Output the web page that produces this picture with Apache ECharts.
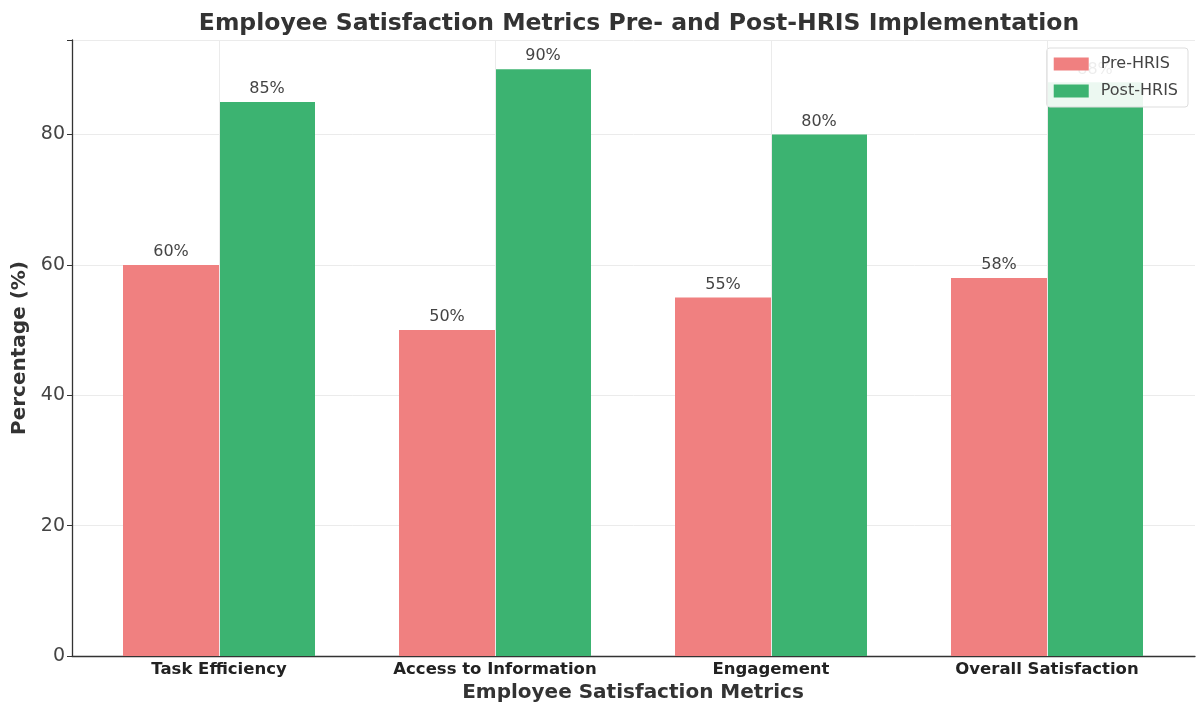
<!DOCTYPE html>
<html>
<head>
<meta charset="utf-8">
<script src="https://cdn.jsdelivr.net/npm/echarts@6/dist/echarts.min.js"></script>
<style>html,body{margin:0;padding:0;background:#fff}#c{width:1198px;height:707px}</style>
</head>
<body>
<div id="c"></div>
<script>
const categories = ['Task Efficiency', 'Access to Information', 'Engagement', 'Overall Satisfaction'];
const preHRIS = [60, 50, 55, 58];
const postHRIS = [85, 90, 80, 88];
const yTicks = [0, 20, 40, 60, 80];

const FONT = '"DejaVu Sans", sans-serif';
const Y_MAX = 94.5;
const chart = echarts.init(document.getElementById('c'));
const labelCfg = {
  show: true, position: 'top', distance: 5,
  formatter: p => p.value + '%',
  fontFamily: FONT, fontSize: 16, color: '#444'
};
chart.setOption({
  animation: false,
  backgroundColor: '#fff',
  title: {
    text: 'Employee Satisfaction Metrics Pre- and Post-HRIS Implementation',
    left: 634, top: 7, textAlign: 'center',
    textStyle: { fontFamily: FONT, fontSize: 23.5, fontWeight: 'bold', color: '#333' }
  },
  legend: {
    orient: 'vertical', right: 10, top: 48,
    icon: 'rect', itemWidth: 35, itemHeight: 13, itemGap: 11,
    padding: [8, 10, 8, 7],
    backgroundColor: 'rgba(255,255,255,0.9)',
    borderColor: '#ddd', borderWidth: 1, borderRadius: 3,
    textStyle: { fontFamily: FONT, fontSize: 16, color: '#444', padding: [0, 0, 0, 7] },
    data: ['Pre-HRIS', 'Post-HRIS']
  },
  grid: [
    { left: 81, right: 13, top: 40, bottom: 51, containLabel: false, outerBoundsMode: 'none' },
    { left: 72, right: 3, top: 40, bottom: 51, containLabel: false, outerBoundsMode: 'none' }
  ],
  xAxis: [
    {
      gridIndex: 0, type: 'category', data: categories,
      axisLine: { show: false },
      axisTick: { show: false },
      axisLabel: { fontFamily: FONT, fontSize: 16.5, fontWeight: 'bold', color: '#222', margin: 5 },
      name: 'Employee Satisfaction Metrics', nameLocation: 'middle', nameGap: 27,
      nameTextStyle: { fontFamily: FONT, fontSize: 20, fontWeight: 'bold', color: '#333' }
    },
    {
      gridIndex: 1, type: 'value', min: 0, max: 1,
      axisLine: { show: true, lineStyle: { color: '#333', width: 1.3 } },
      axisTick: { show: false }, axisLabel: { show: false }, splitLine: { show: false }
    }
  ],
  yAxis: [
    {
      gridIndex: 0, type: 'value', min: 0, max: Y_MAX, interval: 20,
      axisLine: { show: false }, axisTick: { show: false },
      axisLabel: { show: false }, splitLine: { show: false }
    },
    {
      gridIndex: 1, type: 'value', min: 0, max: Y_MAX, interval: 20,
      axisLine: { show: true, lineStyle: { color: '#333', width: 1.3 } },
      axisTick: { show: true, length: 5, lineStyle: { color: '#333' } },
      axisLabel: {
        fontFamily: FONT, fontSize: 19, color: '#444', margin: 7,
        formatter: v => yTicks.includes(v) ? String(v) : ''
      },
      splitLine: { show: true, lineStyle: { color: '#ebebeb', width: 1 } },
      name: 'Percentage (%)', nameLocation: 'middle', nameGap: 42,
      nameTextStyle: { fontFamily: FONT, fontSize: 20, fontWeight: 'bold', color: '#333' }
    }
  ],
  series: [
    {
      type: 'line', data: [], z: 1, silent: true, xAxisIndex: 0, yAxisIndex: 0,
      markLine: {
        silent: true, symbol: 'none', label: { show: false },
        lineStyle: { color: '#ebebeb', type: 'solid', width: 1 },
        data: categories.map(c => ({ xAxis: c }))
      }
    },
    {
      name: 'Pre-HRIS', type: 'bar', data: preHRIS, barWidth: 96, barGap: '0%',
      xAxisIndex: 0, yAxisIndex: 0,
      itemStyle: { color: '#F08080', borderWidth: 0 }, label: labelCfg
    },
    {
      name: 'Post-HRIS', type: 'bar', data: postHRIS, barWidth: 96, barGap: '0%',
      xAxisIndex: 0, yAxisIndex: 0,
      itemStyle: { color: '#3CB371', borderWidth: 0 }, label: labelCfg
    }
  ]
});
</script>
</body>
</html>
